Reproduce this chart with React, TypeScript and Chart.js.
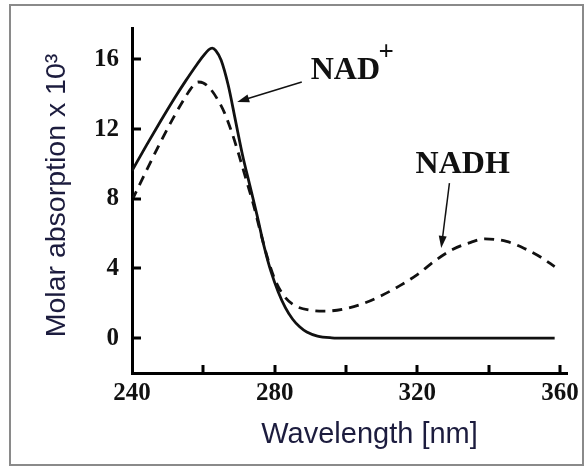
import { useEffect, useRef } from 'react';
import { Chart, registerables } from 'chart.js';

Chart.register(...registerables);

// NAD+ (solid line)
const nadWavelengths = [240, 244, 248, 252, 255, 258, 260, 261.5, 262.5, 263.5, 265, 267, 269, 271, 273, 275, 277, 279, 281, 283, 285, 287, 289, 292, 296, 300, 320, 340, 358.5];
const nadValues = [9.6, 11.05, 12.45, 13.8, 14.75, 15.65, 16.2, 16.55, 16.65, 16.5, 15.95, 14.5, 12.5, 10.5, 8.8, 7.1, 5.3, 3.8, 2.65, 1.75, 1.1, 0.65, 0.35, 0.12, 0.02, 0, 0, 0, 0];

// NADH (dashed line)
const nadhWavelengths = [240, 244, 248, 252, 255, 257, 258.5, 260, 262, 264, 266, 268, 270, 272, 274, 276, 278, 280, 282, 285, 290, 294, 300, 305, 310, 315, 320, 325, 330, 335, 339, 345, 350, 355, 358.5];
const nadhValues = [7.9, 9.6, 11.25, 12.8, 13.85, 14.45, 14.7, 14.65, 14.3, 13.7, 12.9, 11.8, 10.5, 9.1, 7.7, 6.1, 4.6, 3.4, 2.6, 1.95, 1.6, 1.55, 1.7, 2.0, 2.45, 3.0, 3.65, 4.45, 5.1, 5.5, 5.7, 5.55, 5.15, 4.6, 4.1];

const xTickValues = [240, 260, 280, 300, 320, 340, 360];
const yTickValues = [0, 4, 8, 12, 16];

const xTitle = 'Wavelength [nm]';
const yTitle = 'Molar absorption x 10³';
const nadLabel = 'NAD';
const nadSup = '+';
const nadhLabel = 'NADH';

// annotation anchors in data coordinates
const nadLabelPos = { x: 290.1, y: 14.85 };
const nadSupPos = { x: 311.3, y: 16.35 };
const nadArrowFrom = { x: 287.6, y: 14.7 };
const nadArrowTo = { x: 269.5, y: 13.56 };
const nadhLabelPos = { x: 319.5, y: 9.48 };
const nadhArrowFrom = { x: 329.0, y: 8.9 };
const nadhArrowTo = { x: 326.7, y: 5.18 };

const titleColor = '#1c1c3e';

function arrow(ctx: CanvasRenderingContext2D, x1: number, y1: number, x2: number, y2: number) {
  const ang = Math.atan2(y2 - y1, x2 - x1);
  const len = 12;
  const hw = 4;
  ctx.beginPath();
  ctx.moveTo(x1, y1);
  ctx.lineTo(x2 - Math.cos(ang) * len * 0.8, y2 - Math.sin(ang) * len * 0.8);
  ctx.lineWidth = 1.5;
  ctx.strokeStyle = '#111';
  ctx.stroke();
  ctx.beginPath();
  ctx.moveTo(x2, y2);
  ctx.lineTo(x2 - Math.cos(ang) * len - Math.sin(ang) * hw, y2 - Math.sin(ang) * len + Math.cos(ang) * hw);
  ctx.lineTo(x2 - Math.cos(ang) * len + Math.sin(ang) * hw, y2 - Math.sin(ang) * len - Math.cos(ang) * hw);
  ctx.closePath();
  ctx.fillStyle = '#111';
  ctx.fill();
}

const decorPlugin = {
  id: 'decor',
  beforeDraw(chart: any) {
    const ctx = chart.ctx as CanvasRenderingContext2D;
    ctx.save();
    ctx.fillStyle = '#ffffff';
    ctx.fillRect(0, 0, chart.width, chart.height);
    ctx.strokeStyle = '#8a8a8a';
    ctx.lineWidth = 2;
    ctx.strokeRect(10, 5, 573, 460);
    ctx.restore();
  },
  afterDraw(chart: any) {
    const ctx = chart.ctx as CanvasRenderingContext2D;
    const a = chart.chartArea;
    const xs = chart.scales.x;
    const ys = chart.scales.y;
    ctx.save();
    // inward tick marks
    ctx.strokeStyle = '#000';
    ctx.lineWidth = 3;
    yTickValues.forEach((v) => {
      const py = Math.round(ys.getPixelForValue(v));
      ctx.beginPath();
      ctx.moveTo(a.left, py);
      ctx.lineTo(a.left + 9, py);
      ctx.stroke();
    });
    xTickValues.forEach((v, i) => {
      if (i === 0) return;
      const px = Math.round(xs.getPixelForValue(v));
      ctx.beginPath();
      ctx.moveTo(px, a.bottom);
      ctx.lineTo(px, a.bottom - 8);
      ctx.stroke();
    });

    // axis titles
    ctx.fillStyle = titleColor;
    ctx.font = '29px "Liberation Sans", Arial, sans-serif';
    ctx.textAlign = 'center';
    ctx.textBaseline = 'alphabetic';
    ctx.fillText(xTitle, (a.left + a.right) / 2 + 20, a.bottom + 70);
    ctx.save();
    ctx.font = '28.5px "Liberation Sans", Arial, sans-serif';
    ctx.translate(a.left - 75, (a.top + a.bottom) / 2 - 5);
    ctx.rotate(-Math.PI / 2);
    ctx.textBaseline = 'middle';
    ctx.fillText(yTitle, 0, 0);
    ctx.restore();

    // annotations
    ctx.fillStyle = '#111';
    ctx.textAlign = 'left';
    ctx.textBaseline = 'alphabetic';
    ctx.font = 'bold 32px "Liberation Serif", "Times New Roman", serif';
    ctx.fillText(nadLabel, xs.getPixelForValue(nadLabelPos.x), ys.getPixelForValue(nadLabelPos.y));
    ctx.fillText(nadhLabel, xs.getPixelForValue(nadhLabelPos.x), ys.getPixelForValue(nadhLabelPos.y));
    ctx.font = 'bold 27px "Liberation Serif", "Times New Roman", serif';
    ctx.textAlign = 'center';
    ctx.textBaseline = 'middle';
    ctx.fillText(nadSup, xs.getPixelForValue(nadSupPos.x), ys.getPixelForValue(nadSupPos.y));

    arrow(ctx, xs.getPixelForValue(nadArrowFrom.x), ys.getPixelForValue(nadArrowFrom.y), xs.getPixelForValue(nadArrowTo.x), ys.getPixelForValue(nadArrowTo.y));
    arrow(ctx, xs.getPixelForValue(nadhArrowFrom.x), ys.getPixelForValue(nadhArrowFrom.y), xs.getPixelForValue(nadhArrowTo.x), ys.getPixelForValue(nadhArrowTo.y));
    ctx.restore();
  },
};

export default function App() {
  const ref = useRef<HTMLCanvasElement | null>(null);
  useEffect(() => {
    if (!ref.current) return;
    const tickFont = { family: '"Liberation Serif", "Times New Roman", serif', size: 25, weight: 'bold' as const };
    const chart = new Chart(ref.current, {
      type: 'line',
      data: {
        datasets: [
          {
            label: 'NAD+',
            data: nadWavelengths.map((x, i) => ({ x, y: nadValues[i] })),
            borderColor: '#111',
            borderWidth: 2.8,
            pointRadius: 0,
            fill: false,
            cubicInterpolationMode: 'monotone',
          },
          {
            label: 'NADH',
            data: nadhWavelengths.map((x, i) => ({ x, y: nadhValues[i] })),
            borderColor: '#111',
            borderWidth: 2.8,
            borderDash: [10, 7],
            pointRadius: 0,
            fill: false,
            cubicInterpolationMode: 'monotone',
          },
        ],
      },
      plugins: [decorPlugin],
      options: {
        responsive: false,
        animation: false,
        devicePixelRatio: 1,
        layout: { padding: { top: 28, right: 15, left: 0, bottom: 0 } },
        plugins: { legend: { display: false }, tooltip: { enabled: false }, title: { display: false } },
        scales: {
          x: {
            type: 'linear',
            min: 240,
            max: 362,
            afterFit: (s: any) => { s.height = 95; },
            afterBuildTicks: (s: any) => { s.ticks = xTickValues.map((v) => ({ value: v })); },
            grid: { drawOnChartArea: false, drawTicks: false },
            border: { display: true, width: 3, color: '#000' },
            ticks: {
              autoSkip: false,
              maxRotation: 0,
              padding: 6,
              color: '#111',
              font: tickFont,
              callback: (v: any) => (Number(v) % 40 === 0 ? String(v) : ''),
            },
          },
          y: {
            type: 'linear',
            min: -2,
            max: 17.8,
            afterFit: (s: any) => { s.width = 132; },
            afterBuildTicks: (s: any) => { s.ticks = yTickValues.map((v) => ({ value: v })); },
            grid: { drawOnChartArea: false, drawTicks: false },
            border: { display: true, width: 3, color: '#000' },
            ticks: {
              padding: 13,
              color: '#111',
              font: tickFont,
              callback: (v: any) => String(v),
            },
          },
        },
      },
    } as any);
    return () => chart.destroy();
  }, []);
  return (
    <div style={{ position: 'absolute', left: 0, top: 0, width: 585, height: 468, background: '#fff' }}>
      <canvas ref={ref} width={585} height={468} style={{ display: 'block', width: 585, height: 468 }} />
    </div>
  );
}
